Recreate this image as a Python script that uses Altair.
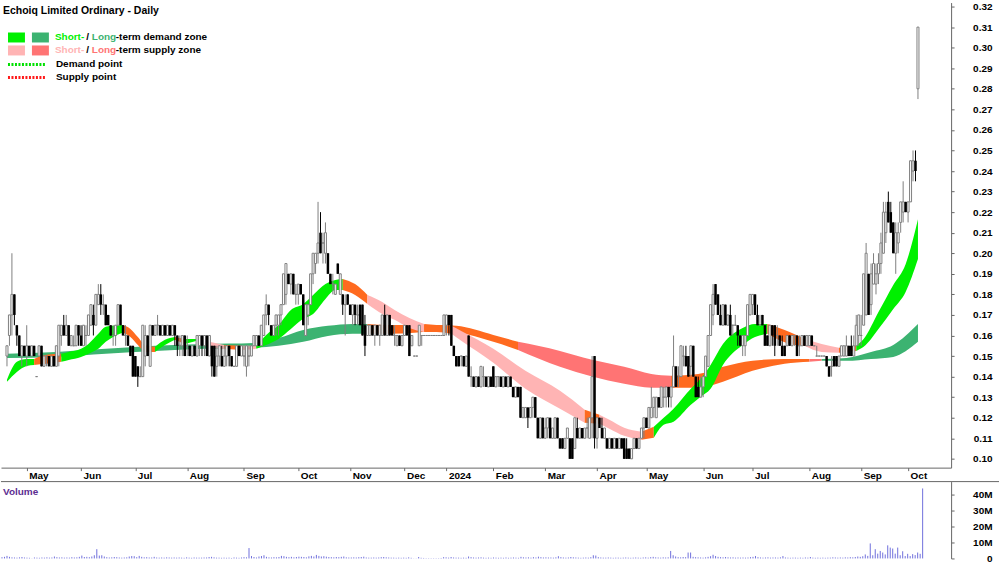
import altair as alt
import pandas as pd
import numpy as np

# ---------------- data (prices in cents, volume in millions) ----------------
OPEN = [
    15, 16, 17, 18, 16.5, 16, 15, 15.5, 15, 15.5,
    15, 15.5, 14, 15, 15.5, 14.5, 15, 15, 14.5, 15,
    14.5, 15, 16, 16.5, 16, 16.5, 15.5, 15.5, 15.5, 16.5,
    16, 15.5, 16, 16, 16.5, 17, 16.5, 17.5, 18, 17.5,
    17.5, 17, 16.5, 16, 16, 16.5, 17.5, 16.5, 16, 16,
    15.5, 15.5, 15, 14.5, 14, 14, 15, 16, 14.5, 16.5,
    16, 16.5, 16.5, 16, 16.5, 16, 16.5, 16, 16.5, 16,
    15.5, 15.5, 16, 15.5, 15.5, 15, 15.5, 15, 15.5, 16,
    15.5, 16, 15, 15.5, 15.5, 14.5, 15, 15, 14.5, 15,
    15.5, 15, 14.5, 14.5, 15.5, 15, 15, 14.5, 15, 15,
    15.5, 15.5, 16, 15.5, 16, 17, 17.5, 16.5, 16, 16.5,
    16.5, 17, 17.5, 18, 19, 18.5, 19, 18, 18, 18.5,
    18, 16, 17, 17.5, 19, 19.5, 20, 21, 20.5, 20,
    20, 19, 18.5, 18, 19.5, 18, 18, 17.5, 18, 17.5,
    17, 17.5, 17, 17.5, 17.5, 16.5, 16, 16, 16.5, 16,
    16.5, 16, 16, 17, 16, 17, 16.5, 16, 15.5, 16,
    15.5, 16, 16.5, 16.5, 15.5, 15, 15, 15.5, 16, 16,
    16, 16, 16, 16, 16, 16, 16, 16, 16.5, 17,
    17, 15.5, 15, 15, 15, 15, 14.5, 16, 14, 14,
    13.5, 14, 13.5, 14, 14, 13.5, 14, 14.5, 13.5, 14,
    14, 13.5, 14, 13.5, 14, 13.5, 13, 13.5, 13.5, 12,
    12, 12.5, 12, 12.5, 13, 12, 11, 12, 11, 11.5,
    12, 11, 11, 12, 11, 11, 10.5, 11, 11, 11,
    10.5, 11.5, 11, 11.5, 11, 11.5, 11, 12, 15, 11,
    12, 11.5, 11, 11, 10.5, 11, 10.5, 11, 10.5, 11,
    11, 10.5, 10.5, 10, 10.5, 11, 10.5, 11, 11.5, 12,
    11.5, 12, 12.5, 12, 13, 12.5, 13, 13, 13.5, 13,
    13.5, 14.5, 14, 14, 15, 15, 15, 14.5, 15.5, 14,
    13.5, 13, 13.5, 14, 14.5, 16, 17, 18.5, 18, 17,
    16.5, 17.5, 16.5, 17, 16.5, 16.5, 16.5, 16, 15.5, 15.5,
    16, 17, 17.5, 18, 17, 16.5, 17, 16.5, 16, 15.5,
    16.5, 16.5, 16, 16, 15.5, 15.5, 15.5, 16, 15.5, 16,
    16, 15.5, 15.5, 16, 15.5, 15.5, 16, 15.5, 15, 15,
    15, 15, 15, 14.5, 14.5, 15, 15, 14.5, 15, 15,
    15, 15.5, 15.5, 15, 15.5, 16, 16, 16.5, 17, 19,
    17.5, 18.5, 18.5, 19, 19.5, 20, 21, 22.5, 22, 21.5,
    20, 20.5, 21.5, 22, 22.5, 22, 22.5, 24, 24.5, 28,
]
HIGH = [
    15.5, 17, 20, 18, 16.5, 16, 15.5, 15.5, 16.5, 15.5,
    15.5, 15.5, 14, 15.5, 15.5, 15, 15, 15, 15, 15,
    15.5, 16.5, 16.5, 17, 17, 16.5, 16, 16, 16.5, 16.5,
    16.5, 16.5, 16.5, 17, 17.5, 17.5, 18, 18.5, 18.5, 18,
    17.5, 17, 16.5, 16.5, 16.5, 17.5, 17.5, 16.5, 16.5, 16,
    15.5, 15.5, 15, 14.5, 14.5, 16.5, 16.5, 16, 16.5, 16.5,
    16.5, 17, 16.5, 16.5, 16.5, 16.5, 16.5, 16.5, 16.5, 16,
    16, 16, 16, 16, 15.5, 15.5, 15.5, 16, 16, 16,
    16, 16, 16, 15.5, 15.5, 15.5, 15.5, 15.5, 15.5, 15.5,
    15.5, 15, 14.5, 15.5, 15.5, 15.5, 15.5, 15.5, 15.5, 15.5,
    16, 16, 16, 16.5, 17, 18, 17.5, 16.5, 16.5, 17,
    17, 17.5, 19, 19.5, 19, 19, 19, 18.5, 18.5, 18.5,
    18, 17.5, 17.5, 19, 20, 20, 22.5, 22, 21, 21.5,
    20, 19, 19, 18.5, 19.5, 19, 18, 18, 18, 17.5,
    17.5, 17.5, 17.5, 17.5, 17.5, 17, 16.5, 16.5, 16.5, 16.5,
    16.5, 16.5, 17, 17.5, 17, 17, 16.5, 16.5, 16, 16,
    16, 16.5, 16.5, 16.5, 16, 15, 15, 16.5, 16, 16,
    16, 16, 16, 16, 16, 16, 16, 17, 17, 17,
    17, 15.5, 15, 15, 15, 15, 15, 16, 14.5, 14,
    14, 14, 14.5, 14.5, 14, 14, 14, 14.5, 14, 14,
    14, 14, 14, 14, 14, 13.5, 13.5, 13.5, 13.5, 12.5,
    12.5, 12.5, 12.5, 13, 13, 12, 12, 12, 12, 12,
    12, 11.5, 12, 12, 11, 11, 11, 11.5, 11, 11,
    12, 12, 11.5, 11.5, 11.5, 12, 12, 15, 15, 12,
    12, 12, 11.5, 11, 11, 11, 11, 11, 11, 11,
    11, 11, 10.5, 10.5, 11, 11, 11, 11.5, 12, 12,
    12.5, 13.5, 13, 13, 13, 13.5, 13.5, 13.5, 13.5, 13.5,
    16, 14.5, 14.5, 15.5, 15.5, 15.5, 15, 15.5, 15.5, 14,
    14, 14, 14, 15, 16, 17.5, 18.5, 18.5, 18, 17.5,
    17.5, 17.5, 17, 17.5, 16.5, 17, 16.5, 16, 16, 16,
    17.5, 18, 18, 18, 17.5, 17, 17, 16.5, 16, 16.5,
    16.5, 16.5, 16.5, 16, 16, 15.5, 16, 16, 16, 16,
    16, 16, 16, 16, 16, 16, 16, 15.5, 15.5, 15,
    15, 15, 15, 14.5, 15, 15, 15, 15, 15.5, 15.5,
    16, 15.5, 16, 16, 17, 17, 17, 19, 20.5, 19,
    19.5, 20, 19.5, 20, 21, 22.5, 22.5, 23, 22.5, 21.5,
    21.5, 21.5, 22.5, 23.5, 22.5, 22.5, 24.5, 25, 25, 31,
]
LOW = [
    14.5, 15.5, 16, 16.5, 15.5, 15, 14.5, 15, 14.5, 15,
    15, 15, 14, 15, 14.5, 14.5, 14.5, 14.5, 14.5, 14.5,
    14.5, 14.5, 15.5, 16, 16, 15.5, 15.5, 15.5, 15.5, 15.5,
    15.5, 15.5, 15.5, 16, 16.5, 16, 16.5, 17.5, 17, 17,
    16.5, 16.5, 16, 15.5, 15.5, 16.5, 16.5, 16, 15.5, 15.5,
    15, 14, 14, 13.5, 14, 14, 14.5, 15, 14.5, 16,
    16, 16, 16, 16, 16, 16, 16, 16, 15.5, 15,
    15, 15, 15, 15, 15, 15, 15, 15, 15, 15,
    15, 15, 15, 14, 14, 14, 14.5, 14.5, 14.5, 14.5,
    14.5, 14.5, 14.5, 14.5, 15, 15, 14.5, 14, 14.5, 15,
    15.5, 15.5, 15.5, 15.5, 16, 16.5, 16.5, 16, 16, 16,
    16, 16.5, 17.5, 17.5, 18.5, 18, 18, 17.5, 17.5, 18,
    16.5, 16, 16.5, 17.5, 18.5, 19, 19.5, 20, 19.5, 19.5,
    19, 18.5, 18, 18, 19, 18, 17, 16, 17.5, 17,
    16.5, 16.5, 16.5, 16.5, 16, 15, 16, 16, 16, 15.5,
    16, 15.5, 16, 16, 16, 16, 16, 15.5, 15.5, 15.5,
    15.5, 16, 16, 15, 15.5, 15, 15, 15.5, 15.5, 16,
    16, 16, 16, 16, 16, 16, 16, 16, 16, 16,
    15.5, 15, 14.5, 14.5, 14.5, 14.5, 14.5, 14, 13.5, 13.5,
    13.5, 13.5, 13.5, 13.5, 13.5, 13.5, 13.5, 13.5, 13.5, 13.5,
    13.5, 13.5, 13.5, 13.5, 13.5, 13, 13, 13, 12, 12,
    12, 11.5, 12, 12, 12, 11, 11, 11, 11, 11,
    11, 11, 11, 11, 10.5, 10.5, 10.5, 11, 10, 10,
    10.5, 11, 11, 11, 11, 11, 11, 11, 10.5, 10.5,
    11.5, 11, 11, 10.5, 10.5, 10.5, 10.5, 10.5, 10.5, 10.5,
    10, 10, 10, 10, 10.5, 10.5, 10.5, 11, 11, 11.5,
    11.5, 12, 12, 12, 12.5, 12.5, 12.5, 12.5, 12.5, 12.5,
    13.5, 13.5, 13.5, 14, 14.5, 14.5, 14, 14, 14, 13,
    13, 13, 13, 14, 14.5, 16, 16.5, 17.5, 17, 16.5,
    16.5, 16.5, 16.5, 16, 16, 16.5, 15.5, 15.5, 15, 15,
    16, 17, 17, 17, 16.5, 16.5, 16.5, 15.5, 15.5, 15.5,
    15.5, 15, 15.5, 15.5, 15, 15, 15.5, 15.5, 15.5, 15.5,
    15, 15, 15.5, 15.5, 15.5, 15.5, 15.5, 15.5, 15, 15,
    15, 15, 14.5, 14, 14, 14.5, 14.5, 14.5, 15, 15,
    15, 15, 15, 15, 15.5, 15.5, 15.5, 16.5, 17, 17,
    17, 18.5, 18, 18.5, 19, 20, 20.5, 21.5, 21, 20,
    19, 20, 21, 21.5, 22, 21.5, 22.5, 23.5, 23.5, 27.5,
]
CLOSE = [
    15.5, 17, 18, 17, 16, 15, 15.5, 15, 15.5, 15,
    15.5, 15, 14, 15.5, 14.5, 15, 15, 14.5, 15, 14.5,
    15.5, 16.5, 16.5, 16, 16.5, 15.5, 16, 15.5, 16.5, 16,
    15.5, 16.5, 16, 17, 17.5, 16.5, 18, 18, 17.5, 17.5,
    16.5, 16.5, 16, 16, 16.5, 17.5, 16.5, 16, 16, 15.5,
    15, 14, 14, 14, 14, 16.5, 16, 15, 16.5, 16,
    16.5, 16.5, 16, 16.5, 16, 16.5, 16, 16.5, 16, 15.5,
    15.5, 16, 15, 15.5, 15, 15.5, 15, 16, 16, 15.5,
    16, 15, 16, 14.5, 14, 15, 15.5, 14.5, 15, 15.5,
    15, 14.5, 14.5, 15.5, 15, 15.5, 15, 15.5, 15, 15.5,
    16, 16, 15.5, 16.5, 17, 17.5, 17, 16, 16.5, 17,
    17, 17.5, 19, 19.5, 18.5, 19, 18, 18, 18.5, 18,
    16.5, 17.5, 17.5, 19, 20, 20, 20.5, 20, 20.5, 21,
    19, 18.5, 18.5, 18.5, 19, 19, 17.5, 17.5, 17.5, 17,
    17.5, 17, 17, 16.5, 16, 15.5, 16.5, 16.5, 16, 16.5,
    16, 16.5, 17, 16, 17, 16, 16, 16, 16, 15.5,
    16, 16.5, 16, 15, 16, 15, 15, 16.5, 16, 16,
    16, 16, 16, 16, 16, 16, 16, 17, 17, 16.5,
    15.5, 15, 14.5, 14.5, 15, 14.5, 15, 14, 14, 13.5,
    14, 13.5, 14.5, 14, 13.5, 14, 13.5, 13.5, 14, 14,
    13.5, 14, 13.5, 14, 13.5, 13, 13.5, 13, 12, 12.5,
    12.5, 12, 12.5, 13, 12, 11, 12, 11, 11.5, 12,
    11, 11.5, 12, 11, 10.5, 10.5, 11, 11.5, 10, 10,
    12, 11, 11.5, 11, 11.5, 11.5, 12, 14, 11, 12,
    11.5, 11, 11.5, 10.5, 11, 10.5, 11, 10.5, 11, 10.5,
    10, 10, 10, 10.5, 11, 10.5, 11, 11.5, 12, 11.5,
    12.5, 12.5, 13, 13, 12.5, 13.5, 13, 13.5, 13, 13.5,
    14.5, 13.5, 14, 15.5, 15, 14.5, 14, 15.5, 14, 13,
    13, 13.5, 14, 15, 16, 17.5, 18, 17.5, 17, 16.5,
    17.5, 16.5, 17, 16, 16.5, 16.5, 16, 15.5, 16, 16,
    17.5, 18, 18, 17, 16.5, 16.5, 16.5, 15.5, 15.5, 16.5,
    16, 15.5, 16, 15.5, 15, 15, 16, 15.5, 16, 16,
    15, 15.5, 16, 15.5, 16, 16, 15.5, 15.5, 15, 15,
    15, 15, 14.5, 14, 14.5, 14.5, 14.5, 15, 15.5, 15.5,
    15.5, 15, 15, 15.5, 16.5, 17, 16, 19, 20, 17,
    19, 19.5, 19, 19.5, 20.5, 22, 22, 21.5, 21, 20,
    21, 21, 22.5, 22.5, 22, 22.5, 24.5, 24.5, 24, 31,
]
VOLUME_M = [
    0.8, 1.0, 1.6, 1.0, 0.7, 0.6, 0.5, 0.7, 0.9, 0.6,
    0.5, 0.4, 0.1, 0.6, 0.5, 0.4, 0.6, 0.5, 0.7, 0.5,
    0.6, 1.2, 0.8, 0.6, 0.7, 0.5, 0.6, 0.5, 0.8, 0.6,
    0.7, 1.0, 1.8, 0.9, 1.0, 0.8, 1.2, 2.0, 5.8, 1.8,
    2.0, 1.2, 0.8, 0.6, 0.7, 0.9, 0.8, 0.6, 0.5, 0.6,
    0.7, 1.2, 1.5, 1.4, 0.8, 1.6, 1.0, 0.7, 0.8, 0.6,
    0.6, 1.0, 0.6, 0.5, 0.6, 0.5, 0.7, 0.6, 0.5, 0.6,
    0.5, 0.6, 0.5, 0.4, 0.7, 0.5, 0.4, 0.6, 0.5, 0.5,
    0.5, 0.6, 0.6, 0.9, 1.0, 0.7, 0.5, 0.5, 0.4, 0.5,
    0.4, 0.5, 0.3, 0.6, 0.5, 0.4, 0.6, 0.8, 0.7, 6.5,
    1.5, 0.9, 0.6, 1.2, 1.5, 2.0, 1.0, 0.7, 0.6, 0.8,
    0.7, 0.9, 1.6, 1.4, 1.0, 0.8, 1.0, 0.7, 0.9, 1.1,
    1.0, 0.9, 0.7, 1.3, 1.6, 1.2, 2.2, 1.6, 1.2, 1.4,
    1.1, 0.9, 0.8, 0.7, 0.9, 0.8, 1.0, 1.2, 0.7, 0.6,
    0.6, 0.7, 0.6, 0.8, 0.9, 1.1, 0.6, 0.5, 0.5, 0.6,
    0.5, 0.6, 0.8, 0.9, 0.7, 0.6, 0.5, 0.5, 0.4, 0.5,
    0.4, 0.5, 0.4, 0.7, 0.4, 0.1, 0.1, 0.9, 0.4, 0.3,
    0.2, 0.2, 0.2, 0.2, 0.2, 0.2, 0.3, 0.8, 0.7, 0.5,
    0.9, 0.6, 0.5, 0.5, 0.4, 0.5, 0.4, 1.2, 0.8, 0.6,
    0.5, 0.6, 0.7, 0.5, 0.4, 0.5, 0.4, 0.6, 0.5, 0.4,
    0.5, 0.4, 0.6, 0.4, 0.5, 0.6, 0.5, 0.4, 1.0, 0.7,
    0.6, 0.7, 0.5, 0.8, 0.6, 1.1, 0.8, 0.6, 0.7, 0.6,
    0.6, 0.5, 0.7, 1.4, 0.8, 0.6, 0.5, 0.6, 0.9, 0.7,
    0.6, 0.5, 0.4, 0.5, 0.6, 0.5, 0.8, 2.0, 1.8, 0.8,
    0.6, 0.5, 0.5, 0.6, 0.5, 0.4, 0.5, 0.5, 0.4, 0.5,
    0.6, 0.5, 0.4, 0.5, 0.6, 0.5, 0.4, 0.6, 0.7, 0.5,
    0.8, 1.0, 0.7, 0.6, 0.5, 0.7, 0.6, 0.7, 4.7, 2.0,
    1.2, 0.8, 0.7, 0.9, 0.8, 3.7, 3.7, 1.0, 0.8, 0.7,
    0.6, 0.5, 0.7, 1.0, 1.4, 2.3, 1.5, 1.0, 0.8, 0.7,
    0.9, 0.7, 0.6, 0.7, 0.5, 0.6, 0.5, 0.6, 0.5, 0.6,
    0.8, 1.0, 1.5, 0.8, 0.6, 0.5, 0.6, 0.7, 0.5, 0.6,
    0.6, 0.5, 0.7, 1.5, 0.6, 0.5, 0.4, 0.5, 0.5, 0.4,
    0.5, 0.4, 0.6, 0.5, 0.9, 0.5, 0.4, 0.5, 0.4, 0.5,
    0.4, 0.5, 0.5, 0.7, 0.6, 0.5, 0.6, 0.5, 0.7, 0.6,
    0.8, 0.7, 0.9, 1.2, 1.0, 1.4, 2.5, 1.6, 9.4, 2.0,
    5.8, 3.0, 4.7, 3.7, 2.5, 8.2, 6.8, 6.2, 3.0, 6.8,
    2.0, 4.5, 1.5, 2.9, 1.5, 2.7, 2.1, 3.7, 2.9, 43.8,
]

MONTH_TICKS = [8, 30, 52, 73, 96, 118, 139, 161, 178, 197, 218, 239, 259, 282, 302, 325, 346, 365]
MONTH_LABELS = ["May", "Jun", "Jul", "Aug", "Sep", "Oct", "Nov", "Dec", "2024",
                "Feb", "Mar", "Apr", "May", "Jun", "Jul", "Aug", "Sep", "Oct"]
PRICE_TICKS = [0.10, 0.11, 0.12, 0.13, 0.14, 0.15, 0.16, 0.17, 0.18, 0.19, 0.20, 0.21,
               0.22, 0.23, 0.24, 0.25, 0.26, 0.27, 0.28, 0.29, 0.30, 0.31, 0.32]
VOL_TICKS = [0, 10e6, 20e6, 30e6, 40e6]

ST_I = [0, 4, 8, 11, 16, 22, 25, 30, 33, 37,
        40, 43, 47, 50, 53, 56, 60, 64, 68, 72,
        77, 82, 88, 95, 101, 105, 110, 115, 120, 124,
        129, 133, 136, 141, 146, 152, 157, 163, 169, 174,
        180, 184, 197, 210, 224, 234, 240, 244, 250, 257,
        262, 266, 270, 277, 281, 285, 290, 298, 303, 308,
        317, 323, 330, 337, 344, 347, 353, 359, 364, 369]
ST_TOP = [0.1385, 0.1472, 0.1486, 0.1486, 0.1506, 0.1511, 0.152, 0.1535, 0.1559, 0.1608,
          0.1642, 0.1647, 0.1651, 0.1632, 0.1593, 0.1554, 0.1545, 0.1579, 0.1593, 0.1583,
          0.1583, 0.1569, 0.1554, 0.155, 0.155, 0.1603, 0.1651, 0.1724, 0.1753, 0.1797,
          0.185, 0.187, 0.1875, 0.185, 0.1797, 0.1763, 0.1724, 0.1685, 0.1656, 0.1651,
          0.1647, 0.1622, 0.1535, 0.1428, 0.1331, 0.1239, 0.1215, 0.119, 0.1151, 0.1132,
          0.1156, 0.12, 0.1244, 0.1341, 0.1389, 0.1457, 0.1559, 0.1637, 0.1656, 0.1656,
          0.1617, 0.1583, 0.1559, 0.154, 0.155, 0.1583, 0.1714, 0.1846, 0.1947, 0.2166]
ST_BOT = [0.1375, 0.1423, 0.1452, 0.1457, 0.1462, 0.1472, 0.1481, 0.1496, 0.1511, 0.1535,
          0.1569, 0.1593, 0.1613, 0.1593, 0.1554, 0.152, 0.152, 0.1554, 0.1579, 0.1559,
          0.1574, 0.154, 0.1535, 0.153, 0.1535, 0.1554, 0.1583, 0.1632, 0.1681, 0.1705,
          0.1778, 0.1821, 0.1821, 0.1797, 0.1753, 0.1705, 0.1676, 0.1637, 0.1617, 0.1617,
          0.1608, 0.1574, 0.1467, 0.1341, 0.1244, 0.1176, 0.1171, 0.1147, 0.1112, 0.1093,
          0.1103, 0.1166, 0.1181, 0.1263, 0.1302, 0.1341, 0.1457, 0.1554, 0.1593, 0.1608,
          0.1559, 0.155, 0.152, 0.1516, 0.1525, 0.1545, 0.1632, 0.1729, 0.1812, 0.1972]
ST_STATE = ["d", "d", "d", "o", "o", "d", "d", "d", "d", "d",
            "d", "d", "o", "o", "o", "o", "d", "d", "o", "d",
            "o", "s", "o", "s", "d", "d", "d", "d", "d", "d",
            "d", "d", "o", "o", "s", "s", "s", "s", "o", "o",
            "s", "s", "s", "s", "s", "o", "s", "s", "s", "o",
            "d", "d", "d", "d", "d", "d", "d", "d", "d", "o",
            "o", "s", "s", "o", "d", "d", "d", "d", "d", "d"]

# long-term band
LT_I = [0, 20, 40, 60, 80, 100, 110, 120, 130, 140,
        146, 155, 165, 175, 182, 197, 207, 224, 237, 250,
        261, 269, 280, 290, 302, 315, 325, 330, 340, 350,
        359, 369]
LT_TOP = [0.1511, 0.152, 0.1535, 0.155, 0.1559, 0.1564, 0.1588, 0.1627, 0.1647, 0.1656,
          0.1656, 0.1651, 0.1651, 0.1651, 0.1647, 0.1603, 0.1569, 0.1525, 0.1482, 0.1448,
          0.1413, 0.1404, 0.1413, 0.1448, 0.1477, 0.1486, 0.1486, 0.1486, 0.1491, 0.152,
          0.1554, 0.1656]
LT_BOT = [0.1491, 0.1496, 0.1511, 0.1525, 0.1535, 0.154, 0.155, 0.1569, 0.1598, 0.1608,
          0.1608, 0.1608, 0.1613, 0.1627, 0.1617, 0.1569, 0.153, 0.1448, 0.14, 0.1365,
          0.1346, 0.1346, 0.1346, 0.1375, 0.1428, 0.1462, 0.1472, 0.1477, 0.1477, 0.1486,
          0.1496, 0.1569]
LT_STATE = ["d", "d", "d", "d", "d", "d", "d", "d", "d", "d",
            "o", "o", "o", "o", "o", "o", "s", "s", "s", "s",
            "s", "o", "o", "o", "o", "o", "s", "d", "d", "d",
            "d", "d"]

# ---------------- styling ----------------
FONT = "Liberation Sans"
ST_GREEN = "#00f000"
LT_GREEN = "#3cb371"
ST_PINK = "#ffb4b4"
LT_RED = "#ff7474"
ORANGE = "#ff6a1f"
UP_GRAY = "#7f7f7f"
VOL_COLOR = "#6f6fdc"
AX = "#666666"

n = len(CLOSE)
assert len(OPEN) == n and len(HIGH) == n and len(LOW) == n and len(VOLUME_M) == n

df = pd.DataFrame({
    "i": np.arange(n),
    "open": np.array(OPEN) / 100.0,
    "high": np.array(HIGH) / 100.0,
    "low": np.array(LOW) / 100.0,
    "close": np.array(CLOSE) / 100.0,
    "vol": np.array(VOLUME_M) * 1e6,
})
df["up"] = df["close"] >= df["open"]
up_df = df[df["up"]]
dn_df = df[~df["up"]]


def band_rows(name, idx, top, bot, state):
    rows = []
    m = len(idx)
    k = 0
    seg = 0
    while k < m - 1:
        st = state[k]
        j = k
        while j + 1 < m - 1 and state[j + 1] == st:
            j += 1
        for p in range(k, j + 2):
            rows.append({"i": idx[p], "top": top[p], "bot": bot[p],
                         "seg": f"{name}{seg}", "key": f"{name}_{st}"})
        seg += 1
        k = j + 1
    return pd.DataFrame(rows)


st_df = band_rows("st", ST_I, ST_TOP, ST_BOT, ST_STATE)
lt_df = band_rows("lt", LT_I, LT_TOP, LT_BOT, LT_STATE)

band_color = alt.Scale(domain=["st_d", "st_s", "st_o", "lt_d", "lt_s", "lt_o"],
                       range=[ST_GREEN, ST_PINK, ORANGE, LT_GREEN, LT_RED, ORANGE])

XS = alt.Scale(domain=[-0.4, 380.4], nice=False, zero=False)
YS = alt.Scale(domain=[0.09573, 0.32194], nice=False, zero=False)

label_expr = " : ".join(
    f"datum.value == {t} ? '{l}'" for t, l in zip(MONTH_TICKS, MONTH_LABELS)) + " : ''"

x_axis = alt.Axis(values=MONTH_TICKS, labelExpr=label_expr, title=None, orient="bottom",
                  tickSize=3, labelAlign="left", labelOffset=2, labelPadding=0,
                  labelBaseline="top", grid=False, domainColor=AX, tickColor=AX,
                  labelFont=FONT, labelFontWeight="bold", labelFontSize=10,
                  labelColor="black", labelOverlap=False, labelFlush=False)
y_axis = alt.Axis(values=PRICE_TICKS, format=".2f", orient="right", title=None,
                  tickSize=3, labelAlign="right", labelPadding=38, grid=False,
                  domainColor=AX, tickColor=AX, labelFont=FONT, labelFontWeight="bold",
                  labelFontSize=10, labelColor="black", labelOverlap=False,
                  labelFlush=False, labelBaseline="middle")


def X():
    return alt.X("i:Q", scale=XS, axis=x_axis)


def Y(field):
    return alt.Y(field, type="quantitative", scale=YS, axis=y_axis)


lt_layer = alt.Chart(lt_df).mark_area(interpolate="monotone").encode(
    x=X(), y=Y("top"), y2="bot:Q",
    color=alt.Color("key:N", scale=band_color, legend=None),
    detail="seg:N",
)
st_layer = alt.Chart(st_df).mark_area(interpolate="monotone").encode(
    x=X(), y=Y("top"), y2="bot:Q",
    color=alt.Color("key:N", scale=band_color, legend=None),
    detail="seg:N",
)

wick_up = alt.Chart(up_df).mark_rule(color=UP_GRAY, strokeWidth=1).encode(
    x=X(), y=Y("low"), y2="high:Q")
wick_dn = alt.Chart(dn_df).mark_rule(color="black", strokeWidth=1).encode(
    x=X(), y=Y("low"), y2="high:Q")
body_up = alt.Chart(up_df).mark_bar(size=2, fill="white", stroke=UP_GRAY, strokeWidth=1).encode(
    x=X(), y=Y("open"), y2="close:Q")
body_dn = alt.Chart(dn_df).mark_bar(size=2.5, color="black").encode(
    x=X(), y=Y("open"), y2="close:Q")

one = pd.DataFrame({"a": [0]})


def txt(s, x, y, color="black", size=10):
    return alt.Chart(pd.DataFrame({"t": [s]})).mark_text(
        align="left", baseline="middle", font=FONT, fontSize=size,
        fontWeight="bold", color=color).encode(
        text="t:N", x=alt.value(x), y=alt.value(y))


def swatch(x, y, color):
    return alt.Chart(one).mark_rect(color=color).encode(
        x=alt.value(x), x2=alt.value(x + 17), y=alt.value(y), y2=alt.value(y + 10))


def dotted(y, color):
    return alt.Chart(one).mark_rule(color=color, strokeWidth=3, strokeDash=[2, 1.5]).encode(
        x=alt.value(7), x2=alt.value(45), y=alt.value(y))


legend_layers = [
    txt("Echoiq Limited Ordinary - Daily", 2, 8, size=10.5),
    swatch(7, 30, ST_GREEN), swatch(31, 30, LT_GREEN),
    swatch(7, 43, ST_PINK), swatch(31, 43, LT_RED),
    txt("Short-", 54, 35, ST_GREEN), txt("/", 85.5, 35), txt("Long", 91, 35, LT_GREEN),
    txt("-term demand zone", 115, 35),
    txt("Short-", 54, 48, ST_PINK), txt("/", 85.5, 48), txt("Long", 91, 48, LT_RED),
    txt("-term supply zone", 115, 48),
    dotted(62, "#00e000"), txt("Demand point", 55, 62),
    dotted(75, "#ff1a1a"), txt("Supply point", 55, 75),
]

price = alt.layer(lt_layer, st_layer, wick_up, wick_dn, body_up, body_dn,
                  *legend_layers).properties(width=952, height=466)

vol_axis = alt.Axis(values=VOL_TICKS,
                    labelExpr="datum.value == 0 ? '0' : format(datum.value / 1e6, 'd') + 'M'",
                    orient="right", title=None,
                    tickSize=3, labelAlign="right", labelPadding=38, grid=False,
                    domainColor=AX, tickColor=AX, labelFont=FONT, labelFontWeight="bold",
                    labelFontSize=10, labelColor="black", labelOverlap=False,
                    labelFlush=False)
vol_bars = alt.Chart(df).mark_rule(color=VOL_COLOR, strokeWidth=1).encode(
    x=alt.X("i:Q", scale=XS, axis=None),
    y=alt.Y("vol:Q", scale=alt.Scale(domain=[0, 48.1e6], nice=False, zero=True), axis=vol_axis),
    y2=alt.datum(0),
)
top_line = alt.Chart(one).mark_rule(color=AX, strokeWidth=1).encode(
    x=alt.value(0), x2=alt.value(1000), y=alt.value(0))
vol_label = txt("Volume", 2, 10, "#5c2d91")

volume = alt.layer(vol_bars, top_line, vol_label).properties(width=952, height=77)

chart = alt.vconcat(price, volume, spacing=14, bounds="flush").properties(
    padding=0, background="white"
).configure_view(stroke=None)

chart.save("out.html", embed_options={"renderer": "svg", "actions": False})
